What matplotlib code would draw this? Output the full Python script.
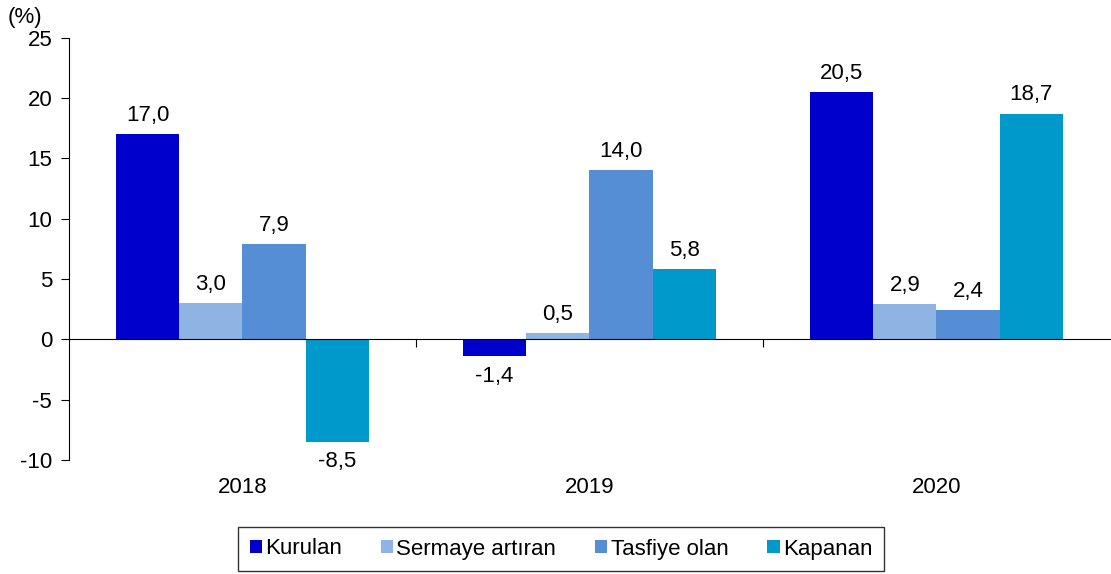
import numpy as np
import matplotlib.pyplot as plt
from matplotlib.transforms import blended_transform_factory

years = ["2018", "2019", "2020"]
series = ["Kurulan", "Sermaye artıran", "Tasfiye olan", "Kapanan"]
kurulan = [17.0, -1.4, 20.5]
sermaye = [3.0, 0.5, 2.9]
tasfiye = [7.9, 14.0, 2.4]
kapanan = [-8.5, 5.8, 18.7]
colors = ["#0000CC", "#8EB4E3", "#558ED5", "#0099CC"]

plt.rcParams["font.family"] = ["Liberation Sans", "DejaVu Sans"]
plt.rcParams["axes.unicode_minus"] = False
fs = 16

fig = plt.figure(figsize=(11.11, 5.74), dpi=100)
ax = fig.add_axes([0.062, 0.199, 0.937, 0.735])

x = np.arange(len(years))
w = 0.182
for i, (vals, name, c) in enumerate(zip([kurulan, sermaye, tasfiye, kapanan], series, colors)):
    pos = x + (i - 1.5) * w
    ax.bar(pos, vals, width=w, color=c, label=name, zorder=2)
    for p, v in zip(pos, vals):
        lab = f"{v:.1f}".replace(".", ",")
        if v >= 0:
            ax.annotate(lab, (p, v), xytext=(0, 6), textcoords="offset points",
                        ha="center", va="bottom", fontsize=fs)
        else:
            ax.annotate(lab, (p, v), xytext=(0, -7), textcoords="offset points",
                        ha="center", va="top", fontsize=fs)

ax.set_xlim(-0.5, 2.5)
ax.set_ylim(-10, 25)
ax.set_yticks(range(-10, 26, 5))
ax.tick_params(axis="y", labelsize=fs, length=6, direction="out", pad=6)
ax.spines["top"].set_visible(False)
ax.spines["right"].set_visible(False)
ax.spines["bottom"].set_position(("data", 0))
ax.set_xticks([0.5, 1.5])
ax.set_xticklabels([])
ax.tick_params(axis="x", length=6, direction="out")

trans = blended_transform_factory(ax.transData, ax.transAxes)
for xi, yr in zip(x, years):
    ax.text(xi, -0.042, yr, transform=trans, ha="center", va="top", fontsize=fs)

fig.text(8 / 1111, 1 - 17 / 574, "(%)", ha="left", va="center", fontsize=fs)

leg = fig.legend(loc="center", bbox_to_anchor=(561 / 1111, 1 - 549 / 574), ncol=4,
                 fontsize=fs, frameon=True, fancybox=False, edgecolor="black",
                 handlelength=0.55, handleheight=0.55, handletextpad=0.15,
                 columnspacing=1.75, borderpad=0.5, borderaxespad=0)
leg.get_frame().set_linewidth(1.0)

fig.savefig("out.png", dpi=100)
